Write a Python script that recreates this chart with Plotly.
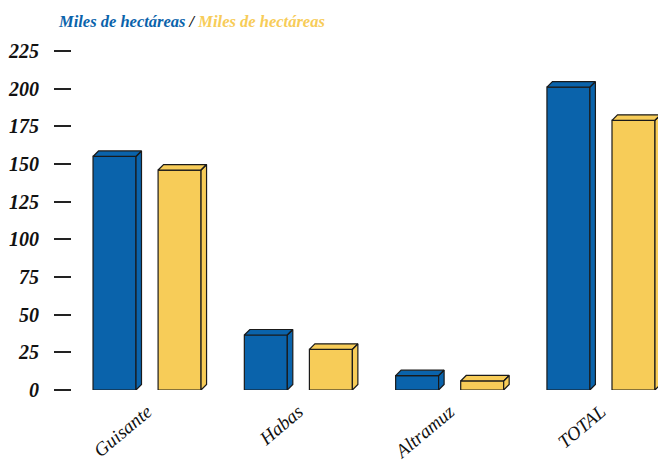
import plotly.graph_objects as go

categories = ["Guisante", "Habas", "Altramuz", "TOTAL"]
serie_a = [155, 36.5, 9.5, 201]
serie_b = [146, 27, 6, 179]
y_ticks = [0, 25, 50, 75, 100, 125, 150, 175, 200, 225]
series_name = "Miles de hectáreas"

BLUE = "#0A63AB"
YELLOW = "#F7CC58"
EDGE = "#1a1a1a"

W, H = 658, 462
L, R, T, B = 72, 0, 40, 72
xr = [-0.496, 3.377]
yr = [0, 232.3]
px_x = (W - L - R) / (xr[1] - xr[0])
px_y = (H - T - B) / (yr[1] - yr[0])
depth_px = 5.5
dx = depth_px / px_x
dy = depth_px / px_y

bw = 0.284
offs = [-0.357, 0.073]

fig = go.Figure()
xs = list(range(len(categories)))
for vals, off, col in [(serie_a, offs[0], BLUE), (serie_b, offs[1], YELLOW)]:
    fig.add_trace(go.Bar(x=xs, y=vals, offset=off, width=bw, marker=dict(color=col, line=dict(color=EDGE, width=1.2)),
                         showlegend=False, hoverinfo="skip"))
    px, py = [], []
    for i, v in enumerate(vals):
        x0 = i + off
        x1 = x0 + bw
        # side face
        px += [x1, x1 + dx, x1 + dx, x1, x1, None]
        py += [0, dy, v + dy, v, 0, None]
        # top face
        px += [x0, x0 + dx, x1 + dx, x1, x0, None]
        py += [v, v + dy, v + dy, v, v, None]
    fig.add_trace(go.Scatter(x=px, y=py, mode="lines", fill="toself", fillcolor=col,
                             line=dict(color=EDGE, width=1.2), showlegend=False, hoverinfo="skip"))

fig.update_layout(
    width=W, height=H,
    margin=dict(l=L, r=R, t=T, b=B, autoexpand=False),
    plot_bgcolor="white", paper_bgcolor="white",
    barmode="overlay",
    xaxis=dict(range=xr, tickmode="array", tickvals=xs, ticktext=categories, tickangle=-40,
               showgrid=False, zeroline=False, showline=False, ticks="", automargin=False,
               ticklabelstandoff=6,
               tickfont=dict(family="Liberation Serif", size=19, style="italic", color="#111")),
    yaxis=dict(range=yr, tickmode="array", tickvals=y_ticks, showgrid=False, zeroline=False, showline=False,
               ticks="outside", ticklen=17, tickwidth=1.5, tickcolor="#222", ticklabelstandoff=11,
               automargin=False,
               tickfont=dict(family="Liberation Serif", size=20, style="italic", weight="bold", color="#111")),
    annotations=[dict(
        xref="paper", yref="paper", x=(56 - L) / (W - L - R), y=1 + (T - 10) / (H - T - B),
        xanchor="left", yanchor="top", showarrow=False,
        text=f"<b><i><span style='color:{BLUE}'>{series_name}</span> / <span style='color:{YELLOW}'>{series_name}</span></i></b>",
        font=dict(family="Liberation Serif", size=16.5, color="#111"))],
)

fig.write_html("out.html", config={"displayModeBar": False},
               post_script="document.body.style.margin='0';document.body.style.overflow='hidden';")
